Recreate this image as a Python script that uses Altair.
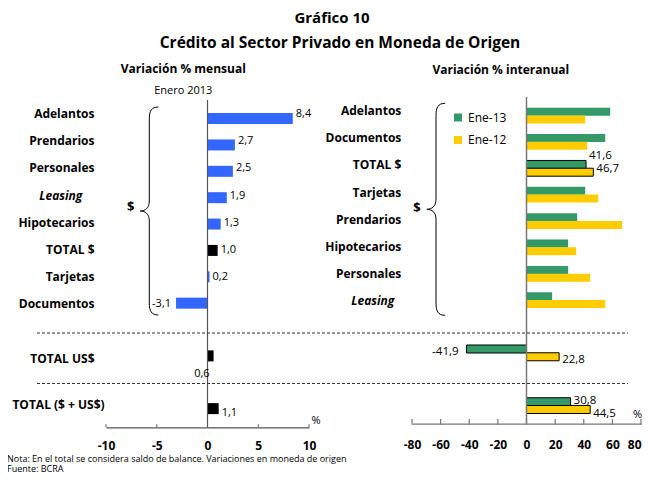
import altair as alt
import pandas as pd

# ---------------- data ----------------
left_categories = ["Adelantos", "Prendarios", "Personales", "Leasing", "Hipotecarios",
                   "TOTAL $", "Tarjetas", "Documentos", "TOTAL US$", "TOTAL ($ + US$)"]
left_values = [8.4, 2.7, 2.5, 1.9, 1.3, 1.0, 0.2, -3.1, 0.6, 1.1]

right_categories = ["Adelantos", "Documentos", "TOTAL $", "Tarjetas", "Prendarios",
                    "Hipotecarios", "Personales", "Leasing", "TOTAL US$", "TOTAL ($ + US$)"]
ene13_values = [58.5, 55.0, 41.6, 41.0, 35.4, 29.1, 29.1, 17.9, -41.9, 30.8]
ene12_values = [41.0, 42.4, 46.7, 50.1, 66.8, 34.7, 44.5, 55.0, 22.8, 44.5]
series_names = ["Ene-13", "Ene-12"]

left_ticks = [-10, -5, 0, 5, 10]
right_ticks = [-80, -60, -40, -20, 0, 20, 40, 60, 80]

total_names = ["TOTAL $", "TOTAL US$", "TOTAL ($ + US$)"]
italic_names = ["Leasing"]

title_1 = "Gráfico 10"
title_2 = "Crédito al Sector Privado en Moneda de Origen"
sub_left = "Variación % mensual"
sub_right = "Variación % interanual"
period_note = "Enero 2013"
note_text = "Nota: En el total se considera saldo de balance. Variaciones en moneda de origen"
source_text = "Fuente: BCRA"

# ---------------- layout (slots, not data) ----------------
row_slots = [0, 1, 2, 3, 4, 5, 6, 7, 9, 11]
FONT = "Open Sans"
BLUE, GREEN, YELLOW = "#3366FF", "#339966", "#FFCC00"


def fmt(v):
    return f"{v:.1f}".replace(".", ",")


ldf = pd.DataFrame({
    "cat": left_categories,
    "value": left_values,
    "row": row_slots,
})
ldf["total"] = ldf["cat"].isin(total_names)
ldf["italic"] = ldf["cat"].isin(italic_names)
ldf["label"] = [fmt(v) for v in ldf["value"]]

rrows = []
for c, r, a, b in zip(right_categories, row_slots, ene13_values, ene12_values):
    for s, v, off in ((series_names[0], a, -0.147), (series_names[1], b, 0.147)):
        rrows.append({"cat": c, "row": r, "series": s, "value": v,
                      "ypos": r + off, "total": c in total_names,
                      "label": fmt(v)})
rdf = pd.DataFrame(rrows)
rcat = pd.DataFrame({"cat": right_categories[:8], "row": row_slots[:8]})
rcat["italic"] = rcat["cat"].isin(italic_names)

# ---------------- scales ----------------
sxL = alt.Scale(domain=[-10, 10], range=[98, 301], nice=False, zero=False)
syL = alt.Scale(domain=[-0.5, 11.5], range=[92.4, 418.8], nice=False, zero=False)
sxR = alt.Scale(domain=[-80, 80], range=[404, 633], nice=False, zero=False)
syR = alt.Scale(domain=[-0.5, 11.5], range=[89.4, 415.8], nice=False, zero=False)

xL = alt.X("value:Q", scale=sxL, axis=None)
yL = alt.Y("row:Q", scale=syL, axis=None)
xR = alt.X("value:Q", scale=sxR, axis=None)
yR = alt.Y("ypos:Q", scale=syR, axis=None)


def axis(values, offset, pad, color, last):
    return alt.Axis(orient="bottom", offset=offset, values=values, ticks=False, grid=False,
                    domainColor=color, domainWidth=1.2, labelFont=FONT, labelFontWeight="bold",
                    labelFontSize=12, labelColor="black", labelBaseline="middle",
                    labelPadding=pad, labelOverlap=False, labelFlush=False,
                    labelAlign={"condition": {"test": f"datum.value == {last}", "value": "right"},
                                "value": "center"} if last is not None else "center",
                    labelExpr="'' + datum.value", title=None)


layers = []

# ---- left panel ----
layers.append(alt.Chart(ldf).transform_filter("!datum.total").mark_bar(
    orient="horizontal", size=11, color=BLUE).encode(
    x=alt.X("value:Q", scale=sxL, axis=axis(left_ticks, -45.7, 18.5, "#555555", None)),
    x2=alt.datum(0), y=yL))
layers.append(alt.Chart(ldf).transform_filter("datum.total").mark_bar(
    orient="horizontal", size=11, color="black").encode(x=xL, x2=alt.datum(0), y=yL))

layers.append(alt.Chart(pd.DataFrame({"t": left_ticks})).mark_rule(color="#555555", strokeWidth=1).encode(
    x=alt.X("t:Q", scale=sxL, axis=None), y=alt.value(416.3), y2=alt.value(419.3)))
layers.append(alt.Chart(pd.DataFrame({"z": [0]})).mark_rule(color="#555555", strokeWidth=1.2).encode(
    x=alt.X("z:Q", scale=sxL, axis=None), y=alt.value(92), y2=alt.value(419.3)))

vl = dict(font=FONT, fontSize=11, color="black", baseline="middle")
layers.append(alt.Chart(ldf).transform_filter(
    "datum.value > 0 && datum.cat != 'TOTAL US$'").mark_text(align="left", dx=3, **vl).encode(
    x=xL, y=yL, text="label:N"))
layers.append(alt.Chart(ldf).transform_filter("datum.value < 0").mark_text(align="right", dx=-5, **vl).encode(
    x=xL, y=yL, text="label:N"))
layers.append(alt.Chart(ldf).transform_filter("datum.cat == 'TOTAL US$'").mark_text(
    align="right", dx=-4, dy=15, **vl).encode(x=xL, y=yL, text="label:N"))

cl = dict(font=FONT, fontSize=12, fontWeight="bold", color="black", baseline="middle")
layers.append(alt.Chart(ldf).transform_filter(
    "!datum.italic && datum.cat != 'TOTAL ($ + US$)'").mark_text(align="right", **cl).encode(
    x=alt.value(86.5), y=yL, text="cat:N"))
layers.append(alt.Chart(ldf).transform_filter("datum.italic").mark_text(
    align="right", fontStyle="italic", **cl).encode(x=alt.value(74.3), y=yL, text="cat:N"))
layers.append(alt.Chart(ldf).transform_filter("datum.cat == 'TOTAL ($ + US$)'").mark_text(
    align="left", dy=-8, **cl).encode(x=alt.value(4.4), y=yL, text="cat:N"))

# ---- right panel ----
color_enc = alt.Color("series:N", scale=alt.Scale(domain=series_names, range=[GREEN, YELLOW]),
                      legend=alt.Legend(orient="none", legendX=444, legendY=103.5, title=None,
                                        symbolType="square", symbolSize=64, symbolStrokeWidth=0,
                                        labelFont=FONT, labelFontSize=12, labelColor="black",
                                        rowPadding=10.5, labelOffset=4))
layers.append(alt.Chart(rdf).transform_filter("!datum.total").mark_bar(
    orient="horizontal", size=8).encode(
    x=alt.X("value:Q", scale=sxR, axis=axis(right_ticks, -49.3, 21, "#777777", 80)),
    x2=alt.datum(0), y=yR, color=color_enc))
layers.append(alt.Chart(rdf).transform_filter("datum.total").mark_bar(
    orient="horizontal", size=8, stroke="black", strokeWidth=1).encode(
    x=xR, x2=alt.datum(0), y=yR,
    color=alt.Color("series:N", scale=alt.Scale(domain=series_names, range=[GREEN, YELLOW]),
                    legend=None)))

layers.append(alt.Chart(pd.DataFrame({"t": right_ticks})).mark_rule(color="#777777", strokeWidth=1.2).encode(
    x=alt.X("t:Q", scale=sxR, axis=None), y=alt.value(411), y2=alt.value(416.7)))
layers.append(alt.Chart(pd.DataFrame({"z": [0]})).mark_rule(color="#777777", strokeWidth=1.5).encode(
    x=alt.X("z:Q", scale=sxR, axis=None), y=alt.value(89), y2=alt.value(415.7)))

rv = dict(font=FONT, fontSize=11.5, color="black", baseline="middle")
layers.append(alt.Chart(rdf).transform_filter(
    "datum.total && datum.series == 'Ene-13' && datum.value > 0").mark_text(
    align="left", dx=3, dy=-5, **rv).encode(x=xR, y=yR, text="label:N"))
layers.append(alt.Chart(rdf).transform_filter(
    "datum.total && datum.series == 'Ene-12'").mark_text(
    align="left", dx=3, **rv).encode(x=xR, y=yR, text="label:N"))
layers.append(alt.Chart(rdf).transform_filter(
    "datum.total && datum.value < 0").mark_text(
    align="right", dx=-8, **rv).encode(x=xR, y=yR, text="label:N"))

yRc = alt.Y("row:Q", scale=syR, axis=None)
layers.append(alt.Chart(rcat).transform_filter("!datum.italic").mark_text(align="right", **cl).encode(
    x=alt.value(393.3), y=yRc, text="cat:N"))
layers.append(alt.Chart(rcat).transform_filter("datum.italic").mark_text(
    align="right", fontStyle="italic", **cl).encode(x=alt.value(386.3), y=yRc, text="cat:N"))

# ---- dashed separators ----
for yy in (325, 375.5):
    layers.append(alt.Chart(pd.DataFrame({"k": [0]})).mark_rule(
        color="#333333", strokeWidth=1, strokeDash=[3, 2]).encode(
        x=alt.value(29), x2=alt.value(620), y=alt.value(yy)))

# ---- braces ----
brace_path = ("M 0.0865 -1 C 0.019 -1 0 -0.96 0 -0.885 L 0 -0.096 C 0 -0.029 -0.038 0 -0.0865 0 "
              "C -0.038 0 0 0.029 0 0.096 L 0 0.885 C 0 0.96 0.019 1 0.0865 1")
for bx, by, bh in ((141.3, 203, 208), (428, 201.3, 212)):
    layers.append(alt.Chart(pd.DataFrame({"k": [0]})).mark_point(
        shape=brace_path, size=bh * bh, filled=False, stroke="black", strokeWidth=1,
        opacity=1).encode(x=alt.value(bx), y=alt.value(by)))


# ---- texts ----
def txt(t, x, y, size=12, weight="normal", align="center", style="normal"):
    return alt.Chart(pd.DataFrame({"t": [t]})).mark_text(
        font=FONT, fontSize=size, fontWeight=weight, align=align, baseline="middle",
        color="black", fontStyle=style).encode(text="t:N", x=alt.value(x), y=alt.value(y))


layers += [
    txt(title_1, 324, 10, 15, "bold"),
    txt(title_2, 332, 35, 15.5, "bold"),
    txt(sub_left, 175.3, 61, 12, "bold"),
    txt(sub_right, 492.8, 62, 12, "bold"),
    txt(period_note, 175.3, 82.7, 11),
    txt("%", 308, 413, 11),
    txt("%", 634, 407, 11, align="right"),
    txt("$", 122.7, 199, 13, "bold"),
    txt("$", 409, 199.7, 13, "bold"),
    txt(note_text, -1, 450.5, 9, align="left"),
    txt(source_text, -1, 460.5, 9, align="left"),
]

chart = alt.layer(*layers).resolve_scale(
    x="independent", y="independent"
).properties(
    width=634, height=465, padding=0, autosize=alt.AutoSizeParams(type="none")
).configure_view(stroke=None)

chart.save("out.html", embed_options={"renderer": "svg", "actions": False})
